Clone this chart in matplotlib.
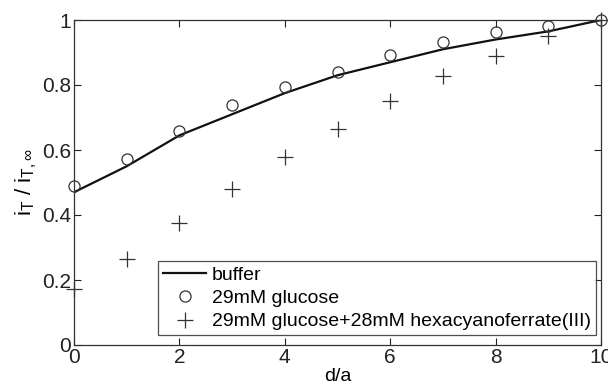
import matplotlib
matplotlib.use('Agg')
import matplotlib.pyplot as plt
import numpy as np

plt.rcParams['font.family'] = ['Liberation Sans', 'DejaVu Sans']
plt.rcParams['mathtext.fontset'] = 'custom'
plt.rcParams['mathtext.rm'] = 'Liberation Sans'
plt.rcParams['mathtext.it'] = 'Liberation Sans'

# ── data ──
d_a = np.array([0, 1, 2, 3, 4, 5, 6, 7, 8, 9, 10])
buffer = np.array([0.47, 0.55, 0.645, 0.71, 0.775, 0.83, 0.87, 0.91, 0.94, 0.965, 1.0])
glucose = np.array([0.488, 0.572, 0.66, 0.74, 0.795, 0.84, 0.893, 0.932, 0.962, 0.982, 1.0])
glucose_hcf = np.array([0.172, 0.265, 0.375, 0.48, 0.577, 0.665, 0.75, 0.828, 0.89, 0.95, 1.0])

fig = plt.figure(figsize=(6.08, 3.89), dpi=100)
ax = fig.add_axes([74 / 608, 44 / 389, 527 / 608, 325 / 389])

ax.plot(d_a, buffer, '-', color='#111111', lw=1.6, label='buffer')
ax.plot(d_a, glucose, 'o', ms=8, mfc='none', mec='#333333', mew=0.9,
        label='29mM glucose', zorder=4, clip_on=False)
ax.plot(d_a, glucose_hcf, '+', ms=12, color='#333333', mew=0.9,
        label='29mM glucose+28mM hexacyanoferrate(III)', clip_on=False)

ax.set_xlim(0, 10)
ax.set_ylim(0, 1)
ax.set_xticks([0, 2, 4, 6, 8, 10])
ax.set_xticklabels(['0', '2', '4', '6', '8', '10'])
ax.set_yticks([0, 0.2, 0.4, 0.6, 0.8, 1])
ax.set_yticklabels(['0', '0.2', '0.4', '0.6', '0.8', '1'])
ax.tick_params(direction='in', top=True, right=True, length=5, width=0.8,
               labelsize=15, colors='#222222', pad=2)
for s in ax.spines.values():
    s.set_color('#333333')
    s.set_linewidth(0.9)

ax.set_xlabel('d/a', fontsize=14, labelpad=1)
ax.set_ylabel(r'i$_\mathregular{T}$ / i$_\mathregular{T,\infty}$', fontsize=16, labelpad=2)

leg = ax.legend(loc='lower right', bbox_to_anchor=(0.99, 0.03), fontsize=14,
                frameon=True, fancybox=False, edgecolor='#222222',
                handlelength=2.2, handletextpad=0.3, borderpad=0.25,
                labelspacing=0.3, borderaxespad=0)
leg.get_frame().set_linewidth(0.9)

fig.savefig('out.png', dpi=100, facecolor='white')
